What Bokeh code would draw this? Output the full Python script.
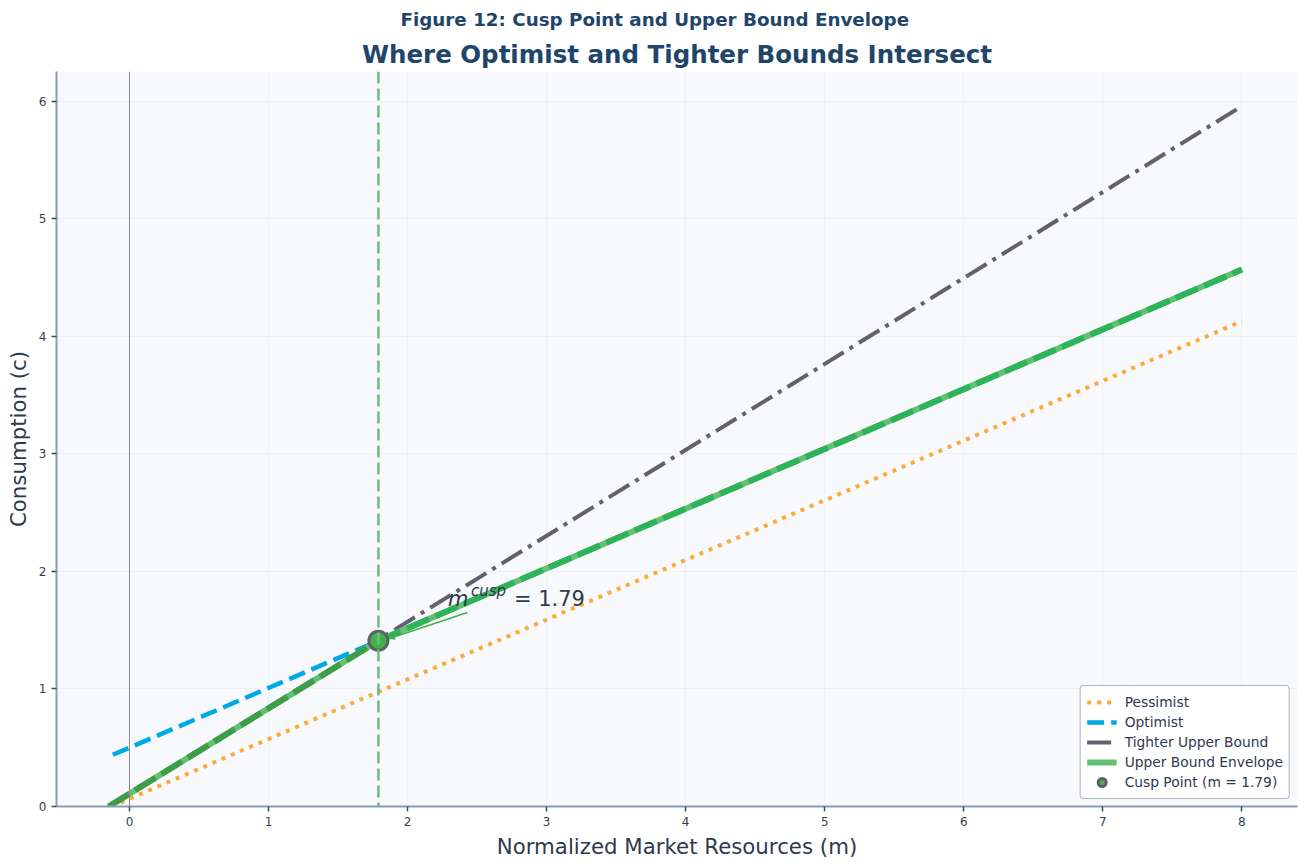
from bokeh.plotting import figure
from bokeh.models import Span, Label, Title, Arrow, NormalHead, Legend, LegendItem, FixedTicker
from bokeh.embed import file_html
from bokeh.resources import INLINE

# ---- data ----
m_pess = [-0.13, 8.0]
c_pess = [0.0, 4.13]
m_opt = [-0.12, 1.79]
c_opt = [0.44, 1.41]
m_tight = [-0.15, 8.0]
c_tight = [0.0, 5.96]
m_env = [-0.15, 1.79, 8.0]
c_env = [0.0, 1.41, 4.57]
m_env_low = [-0.15, 1.79]
c_env_low = [0.0, 1.41]
m_env_high = [1.79, 8.0]
c_env_high = [1.41, 4.57]
cusp_m = [1.79]
cusp_c = [1.41]
arrow_from = (2.43, 1.65)
arrow_to = (1.87, 1.43)
label_pos = (2.29, 1.77)
x_ticks = [0, 1, 2, 3, 4, 5, 6, 7, 8]
y_ticks = [0, 1, 2, 3, 4, 5, 6]

FONT = "DejaVu Sans"
TITLE_C = "#1f456b"
TEXT_C = "#2e3a4e"

W, H = 1308, 867
BL, BR, BT, BB = 56, 11, 71, 61

p = figure(width=W, height=H, x_range=(-0.525, 8.40), y_range=(0, 6.255),
           output_backend="svg", toolbar_location=None,
           min_border_left=BL, min_border_right=BR, min_border_bottom=BB, min_border_top=BT)

# outermost title (figure caption)
p.title.text = "Figure 12: Cusp Point and Upper Bound Envelope"
p.title.text_font = FONT
p.title.text_font_size = "18.3px"
p.title.text_font_style = "bold"
p.title.text_color = TITLE_C
p.title.align = "left"
p.title.offset = 344
p.title.standoff = 11
# main title, closest to the frame
p.add_layout(Title(text="Where Optimist and Tighter Bounds Intersect", text_font=FONT,
                   text_font_size="24.5px", text_font_style="bold", text_color=TITLE_C,
                   align="center", standoff=5), "above")

p.background_fill_color = "#f7f9fc"
p.border_fill_color = "white"
p.outline_line_color = None

for ax in (p.xaxis[0], p.yaxis[0]):
    ax.axis_line_color = "#8c9bb1"
    ax.axis_line_width = 2
    ax.major_tick_line_color = "#3d4a5c"
    ax.major_tick_line_width = 1.5
    ax.major_tick_out = 5
    ax.major_tick_in = 0
    ax.minor_tick_line_color = None
    ax.major_label_text_font = FONT
    ax.major_label_text_font_size = "12px"
    ax.major_label_text_color = "#333f50"
    ax.axis_label_text_font = FONT
    ax.axis_label_text_font_size = "21.3px"
    ax.axis_label_text_font_style = "normal"
    ax.axis_label_text_color = TEXT_C
p.xaxis[0].ticker = FixedTicker(ticks=x_ticks)
p.yaxis[0].ticker = FixedTicker(ticks=y_ticks)
p.xaxis[0].axis_label = "Normalized Market Resources (m)"
p.yaxis[0].axis_label = "Consumption (c)"
p.grid.grid_line_color = "#e9ecf1"
p.grid.grid_line_alpha = 0.7

p.add_layout(Span(location=0, dimension="height", line_color="#8a8a8a", line_width=1))

r_pess = p.line(m_pess, c_pess, line_color="#fbab3c", line_width=4, line_dash="4 6")
r_opt = p.line(m_opt, c_opt, line_color="#00a9e6", line_width=4.5, line_dash="17 7")
r_tight = p.line(m_tight, c_tight, line_color="#62616d", line_width=4, line_dash="24 7 4 7")
r_env = p.line(m_env, c_env, line_color="#62c272", line_width=6)
p.line(m_env_low, c_env_low, line_color="#3f9c48", line_width=6, line_dash="24 7")
p.line(m_env_high, c_env_high, line_color="#2eb35a", line_width=6, line_dash="24 7")

p.add_layout(Span(location=cusp_m[0], dimension="height", line_color="#6cbf7a",
                  line_width=2.5, line_dash="12 5"))

p.add_layout(Arrow(x_start=arrow_from[0], y_start=arrow_from[1], x_end=arrow_to[0], y_end=arrow_to[1],
                   line_color="#3cb44b", line_width=1.6,
                   end=NormalHead(size=5, fill_color="#3cb44b", line_color="#3cb44b")))

r_cusp = p.scatter(cusp_m, cusp_c, size=19, fill_color="#3cb44b", line_color="#5f5e6a", line_width=3)

p.add_layout(Label(x=label_pos[0], y=label_pos[1], text="m", text_font=FONT, text_font_size="21px",
                   text_font_style="italic", text_color=TEXT_C, text_baseline="alphabetic"))
p.add_layout(Label(x=label_pos[0], y=label_pos[1], x_offset=23, y_offset=8, text="cusp", text_font=FONT,
                   text_font_size="15px", text_font_style="italic", text_color=TEXT_C,
                   text_baseline="alphabetic"))
p.add_layout(Label(x=label_pos[0], y=label_pos[1], x_offset=66, text="= 1.79", text_font=FONT,
                   text_font_size="21px", text_color=TEXT_C, text_baseline="alphabetic"))

legend = Legend(items=[
    LegendItem(label="Pessimist", renderers=[r_pess]),
    LegendItem(label="Optimist", renderers=[r_opt]),
    LegendItem(label="Tighter Upper Bound", renderers=[r_tight]),
    LegendItem(label="Upper Bound Envelope", renderers=[r_env]),
    LegendItem(label="Cusp Point (m = 1.79)", renderers=[r_cusp]),
], location="bottom_right")
legend.label_text_font = FONT
legend.label_text_font_size = "13.8px"
legend.label_text_color = TEXT_C
legend.glyph_width = 30
legend.glyph_height = 20
legend.label_height = 20
legend.spacing = 0
legend.padding = 6
legend.margin = 7
legend.border_line_color = "#5f6b7a"
legend.border_line_width = 1.5
legend.border_radius = 4
legend.background_fill_color = "white"
legend.background_fill_alpha = 0.9
legend.label_standoff = 8
p.add_layout(legend)

open("out.html", "w").write(file_html(p, INLINE))
